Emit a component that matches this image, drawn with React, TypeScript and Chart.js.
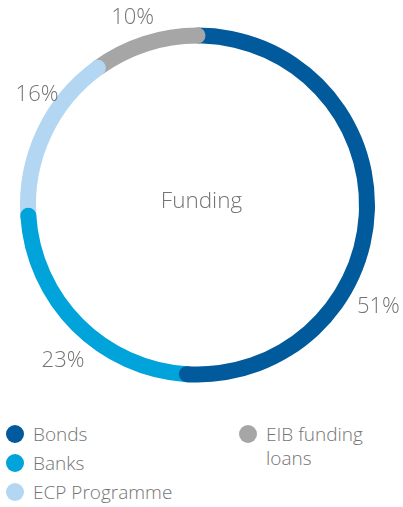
import React, { useEffect, useRef } from "react";
import { Chart, registerables } from "chart.js";

Chart.register(...registerables);

const categories = ["Bonds", "Banks", "ECP Programme", "EIB funding loans"];
const values = [51, 23, 16, 10];
const valueLabels = ["51%", "23%", "16%", "10%"];
const centerTitle = "Funding";

const colors = ["#005a9c", "#00a3da", "#b3d7f2", "#a6a6a6"];
const textColor = "#747474";
const fontFamily = "'Open Sans', 'DejaVu Sans', sans-serif";

// label placement: fraction along each arc and distance outside the ring
const labelPlacement = [
  { frac: 0.65, offset: 30 },
  { frac: 0.45, offset: 28 },
  { frac: 0.66, offset: 17 },
  { frac: 0.47, offset: 21 },
];

const ringPlugin = {
  id: "ringExtras",
  afterDatasetsDraw(chart: any) {
    const ctx = chart.ctx;
    const meta = chart.getDatasetMeta(0);
    ctx.save();
    // rounded end caps, overlapping the next segment
    meta.data.forEach((el: any, i: number) => {
      const p = el.getProps(["x", "y", "endAngle", "outerRadius", "innerRadius"], true);
      const midR = (p.outerRadius + p.innerRadius) / 2;
      const capR = (p.outerRadius - p.innerRadius) / 2;
      ctx.beginPath();
      ctx.fillStyle = colors[i % colors.length];
      ctx.arc(p.x + Math.cos(p.endAngle) * midR, p.y + Math.sin(p.endAngle) * midR, capR, 0, Math.PI * 2);
      ctx.fill();
    });
    // value labels
    ctx.fillStyle = textColor;
    ctx.font = `300 22px ${fontFamily}`;
    ctx.textAlign = "center";
    ctx.textBaseline = "middle";
    meta.data.forEach((el: any, i: number) => {
      const p = el.getProps(["x", "y", "startAngle", "endAngle", "outerRadius"], true);
      const pl = labelPlacement[i];
      const a = p.startAngle + (p.endAngle - p.startAngle) * pl.frac;
      const r = p.outerRadius + pl.offset;
      ctx.fillText(valueLabels[i], p.x + Math.cos(a) * r, p.y + Math.sin(a) * r);
    });
    // centre title
    const first = meta.data[0];
    if (first) {
      ctx.font = `300 22.5px ${fontFamily}`;
      ctx.fillText(centerTitle, first.x + 4, first.y - 3);
    }
    ctx.restore();
  },
};

export default function App() {
  const ref = useRef<HTMLCanvasElement>(null);
  useEffect(() => {
    document.body.style.margin = "0";
    const chart = new Chart(ref.current!, {
      type: "doughnut",
      data: {
        labels: categories,
        datasets: [
          {
            data: values,
            backgroundColor: colors,
            borderWidth: 0,
          },
        ],
      },
      options: {
        animation: false,
        responsive: false,
        devicePixelRatio: 1,
        cutout: "91%",
        layout: { padding: { left: 20, right: 28, top: 27, bottom: 27 } },
        plugins: { legend: { display: false }, tooltip: { enabled: false } },
      },
      plugins: [ringPlugin],
    });
    return () => chart.destroy();
  }, []);

  const dot = (c: string): React.CSSProperties => ({
    position: "absolute",
    left: 0,
    top: 3,
    width: 18,
    height: 18,
    borderRadius: "50%",
    background: c,
  });
  const item = (i: number, left: number, top: number, width: number) => (
    <div
      key={i}
      style={{
        position: "absolute",
        left,
        top,
        width,
        paddingLeft: 27,
        fontSize: 19,
        fontWeight: 300,
        lineHeight: "24px",
        color: textColor,
        fontFamily,
      }}
    >
      <span style={dot(colors[i])} />
      {categories[i]}
    </div>
  );

  return (
    <div style={{ position: "absolute", left: 0, top: 0, width: 403, height: 507, background: "#fff" }}>
      <canvas ref={ref} width={403} height={410} style={{ position: "absolute", left: 0, top: 0 }} />
      {item(0, 6, 422, 200)}
      {item(1, 6, 451, 200)}
      {item(2, 6, 480, 200)}
      {item(3, 239, 422, 135)}
    </div>
  );
}
